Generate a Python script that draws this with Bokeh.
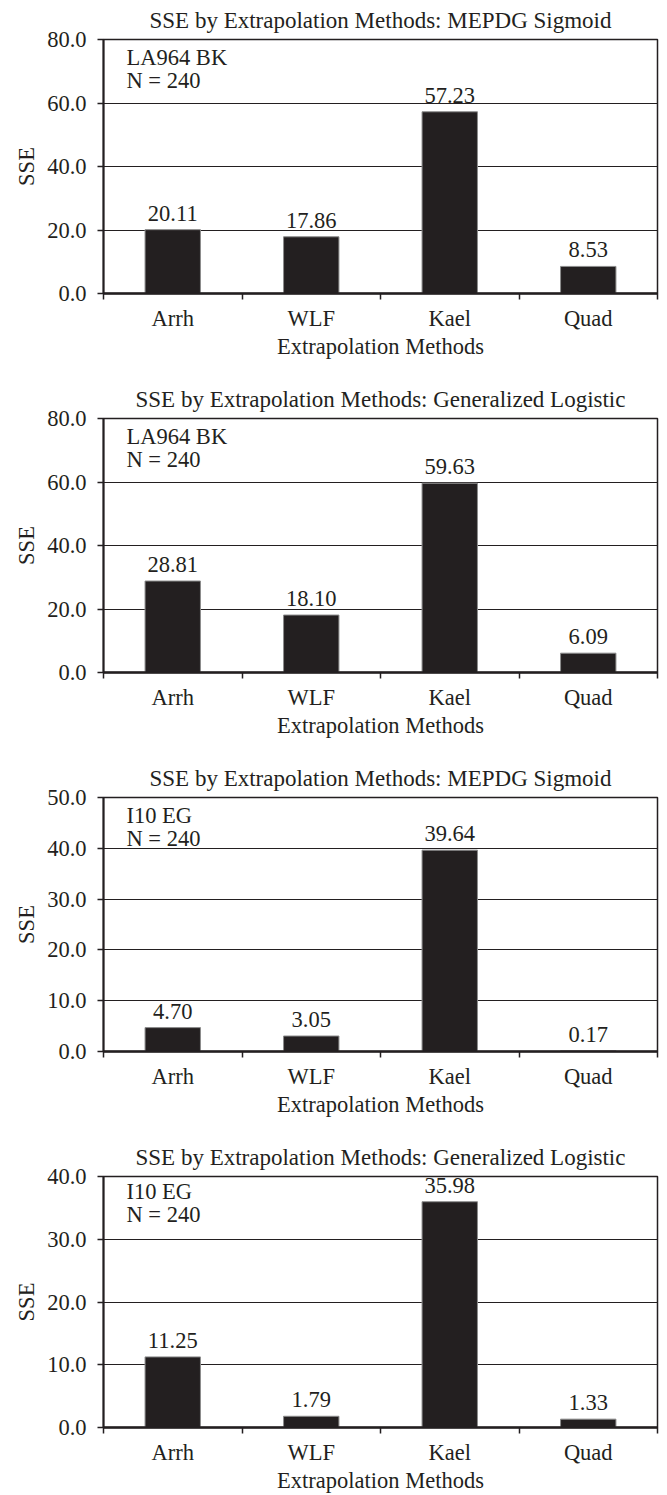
from bokeh.plotting import figure
from bokeh.models import ColumnDataSource, Range1d, FixedTicker, Label, NumeralTickFormatter
from bokeh.layouts import column
from bokeh.core.properties import value
from bokeh.embed import file_html
from bokeh.resources import INLINE

methods = ["Arrh", "WLF", "Kael", "Quad"]

titles = [
    "SSE by Extrapolation Methods: MEPDG Sigmoid",
    "SSE by Extrapolation Methods: Generalized Logistic",
    "SSE by Extrapolation Methods: MEPDG Sigmoid",
    "SSE by Extrapolation Methods: Generalized Logistic",
]
mixes = ["LA964 BK", "LA964 BK", "I10 EG", "I10 EG"]
n_label = "N = 240"

sse_la964_sigmoid = [20.11, 17.86, 57.23, 8.53]
sse_la964_genlog = [28.81, 18.10, 59.63, 6.09]
sse_i10_sigmoid = [4.70, 3.05, 39.64, 0.17]
sse_i10_genlog = [11.25, 1.79, 35.98, 1.33]
series = [sse_la964_sigmoid, sse_la964_genlog, sse_i10_sigmoid, sse_i10_genlog]

y_max = [80, 80, 50, 40]
y_step = [20, 20, 10, 10]

FONT = "Liberation Serif"
INK = "#231f20"
FS = "22.5px"

W = 667
LEFT, RIGHT, TOP = 103, 10, 39
FRAME_H = 254
FRAME_W = W - LEFT - RIGHT

figs = []
for k in range(4):
    last = (k == 3)
    H = 358 if last else 379
    vals = series[k]
    xs = list(range(len(methods)))
    src = ColumnDataSource(dict(x=xs, top=vals, lab=["%.2f" % v for v in vals]))
    p = figure(width=W, height=H, output_backend="svg", toolbar_location=None,
               x_range=Range1d(-0.5, len(methods) - 0.5), y_range=Range1d(0, y_max[k]),
               min_border_left=LEFT, min_border_right=RIGHT, min_border_top=TOP,
               min_border_bottom=H - TOP - FRAME_H, title=titles[k])
    p.title.text_font = FONT
    p.title.text_font_size = "23px"
    p.title.text_font_style = "normal"
    p.title.text_color = INK
    p.title.align = "center"
    p.title.vertical_align = "top"
    p.title.standoff = 10

    p.vbar(x="x", top="top", width=0.4, bottom=0, source=src,
           fill_color=INK, line_color="#8c8c8c", line_width=1)
    p.text(x="x", y="top", text="lab", source=src, text_font=value(FONT),
           text_font_size=FS, text_align="center", text_baseline="bottom",
           text_color=INK, y_offset=-9)

    # x axis
    xa = p.xaxis[0]
    xa.ticker = FixedTicker(ticks=xs, minor_ticks=[i - 0.5 for i in range(len(methods) + 1)])
    xa.major_label_overrides = {i: m for i, m in enumerate(methods)}
    xa.major_tick_line_color = None
    xa.major_tick_out = 0
    xa.major_tick_in = 0
    xa.minor_tick_out = 6
    xa.minor_tick_in = 0
    xa.minor_tick_line_color = INK
    xa.minor_tick_line_width = 1.5
    xa.axis_line_color = INK
    xa.axis_line_width = 2.5
    xa.major_label_text_font = FONT
    xa.major_label_text_font_size = FS
    xa.major_label_text_color = INK
    xa.major_label_standoff = 6
    xa.axis_label = "Extrapolation Methods"
    xa.axis_label_text_font = FONT
    xa.axis_label_text_font_size = FS
    xa.axis_label_text_font_style = "normal"
    xa.axis_label_text_color = INK
    xa.axis_label_standoff = 0

    # y axis
    ya = p.yaxis[0]
    ya.ticker = FixedTicker(ticks=list(range(0, y_max[k] + 1, y_step[k])))
    ya.formatter = NumeralTickFormatter(format="0.0")
    ya.minor_tick_line_color = None
    ya.major_tick_out = 6
    ya.major_tick_in = 0
    ya.major_tick_line_color = INK
    ya.major_tick_line_width = 1.5
    ya.axis_line_color = INK
    ya.axis_line_width = 2
    ya.major_label_text_font = FONT
    ya.major_label_text_font_size = FS
    ya.major_label_text_color = INK
    ya.major_label_standoff = 11
    ya.axis_label = "SSE"
    ya.axis_label_text_font = FONT
    ya.axis_label_text_font_size = FS
    ya.axis_label_text_font_style = "normal"
    ya.axis_label_text_color = INK
    ya.axis_label_standoff = 5

    p.xgrid.grid_line_color = None
    p.ygrid.grid_line_color = INK
    p.ygrid.grid_line_width = 1
    p.ygrid.ticker = ya.ticker

    p.outline_line_color = INK
    p.outline_line_width = 1.5
    p.background_fill_color = "white"
    p.border_fill_color = "white"

    p.add_layout(Label(x=23, y=FRAME_H - 18, x_units="screen", y_units="screen", text=mixes[k],
                       text_font=FONT, text_font_size=FS, text_color=INK,
                       text_align="left", text_baseline="middle"))
    p.add_layout(Label(x=23, y=FRAME_H - 41, x_units="screen", y_units="screen", text=n_label,
                       text_font=FONT, text_font_size=FS, text_color=INK,
                       text_align="left", text_baseline="middle"))
    figs.append(p)

layout = column(*figs, spacing=0)
open("out.html", "w").write(file_html(layout, INLINE))
